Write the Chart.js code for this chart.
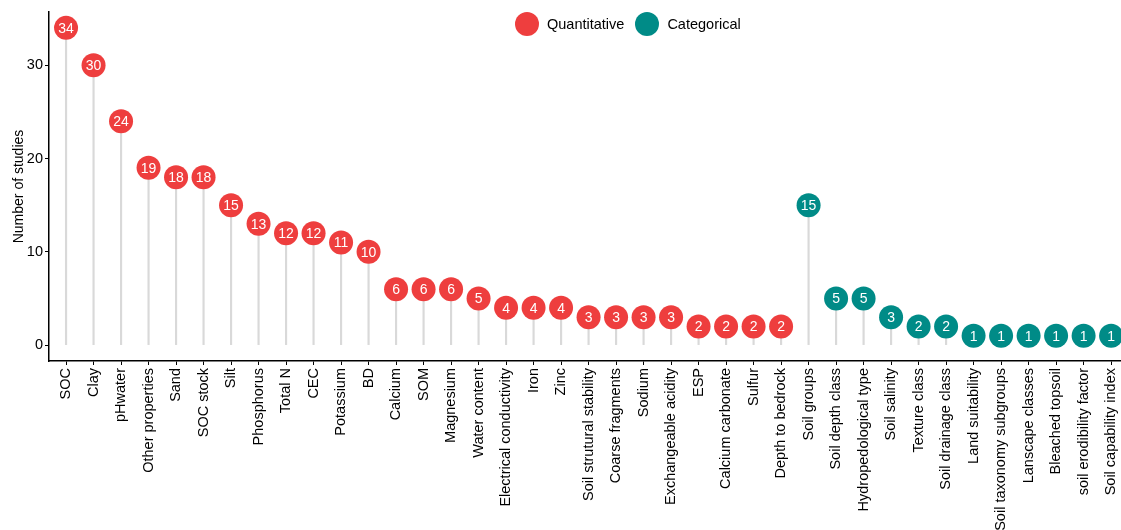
<!DOCTYPE html>
<html>
<head>
<meta charset="utf-8">
<script src="https://cdn.jsdelivr.net/npm/chart.js@4"></script>
<style>
  html, body { margin: 0; padding: 0; background: #fff; overflow: hidden; }
  #wrap { position: relative; width: 1121px; height: 530px; }
  #leyenda { position: absolute; left: 515px; top: 12px; display: flex; align-items: center;
    font-family: "Liberation Sans", Arial, sans-serif; font-size: 14.5px; color: #000; }
  #leyenda span.dot { width: 24px; height: 24px; border-radius: 50%; display: inline-block; margin-right: 8px; }
  #leyenda span.txt { margin-right: 11px; }
</style>
</head>
<body>
<div id="wrap">
  <canvas id="grafico" width="1121" height="530"></canvas>
  <div id="leyenda">
    <span class="dot" style="background:#EE3E3E"></span><span class="txt">Quantitative</span>
    <span class="dot" style="background:#008B87"></span><span class="txt">Categorical</span>
  </div>
</div>
<script>
var quantNames = ['SOC', 'Clay', 'pHwater', 'Other properties', 'Sand', 'SOC stock', 'Silt', 'Phosphorus',
    'Total N', 'CEC', 'Potassium', 'BD', 'Calcium', 'SOM', 'Magnesium', 'Water content',
    'Electrical conductivity', 'Iron', 'Zinc', 'Soil strutural stability', 'Coarse fragments', 'Sodium',
    'Exchangeable acidity', 'ESP', 'Calcium carbonate', 'Sulfur', 'Depth to bedrock'];
var quantValues = [34, 30, 24, 19, 18, 18, 15, 13, 12, 12, 11, 10, 6, 6, 6, 5, 4, 4, 4, 3, 3, 3, 3, 2, 2, 2, 2];
var catNames = ['Soil groups', 'Soil depth class', 'Hydropedological type', 'Soil salinity', 'Texture class',
    'Soil drainage class', 'Land suitability', 'Soil taxonomy subgroups', 'Lanscape classes',
    'Bleached topsoil', 'soil erodibility factor', 'Soil capability index'];
var catValues = [15, 5, 5, 3, 2, 2, 1, 1, 1, 1, 1, 1];
var yTicks = [0, 10, 20, 30];

var etiquetas = quantNames.concat(catNames);
var valores = quantValues.concat(catValues);
var fuente = '"Liberation Sans", Arial, sans-serif';

var puntosQuant = quantValues.map(function (v, i) { return {x: i, y: v}; });
var puntosCat = catValues.map(function (v, i) { return {x: quantNames.length + i, y: v}; });
var tallos = valores.map(function (v, i) { return {x: i, y: v}; });

// numeros blancos dentro de cada circulo
var textoPuntos = {
    id: 'textoPuntos',
    afterDatasetsDraw: function (chart) {
        var ctx = chart.ctx;
        ctx.save();
        ctx.fillStyle = '#fff';
        ctx.font = '14px ' + fuente;
        ctx.textAlign = 'center';
        ctx.textBaseline = 'middle';
        [0, 1].forEach(function (d) {
            var meta = chart.getDatasetMeta(d);
            meta.data.forEach(function (el, i) {
                ctx.fillText(chart.data.datasets[d].data[i].y, el.x, el.y + 1);
            });
        });
        ctx.restore();
    }
};

var ctx = document.getElementById('grafico').getContext('2d');
new Chart(ctx, {
    type: 'scatter',
    data: {
        datasets: [{
            label: 'Quantitative',
            data: puntosQuant,
            backgroundColor: '#EE3E3E',
            pointRadius: 12,
            pointHoverRadius: 12,
            borderWidth: 0,
            clip: false,
            order: 1
        }, {
            label: 'Categorical',
            data: puntosCat,
            backgroundColor: '#008B87',
            pointRadius: 12,
            pointHoverRadius: 12,
            borderWidth: 0,
            clip: false,
            order: 1
        }, {
            type: 'bar',
            label: 'tallos',
            data: tallos,
            backgroundColor: '#d9d9d9',
            barThickness: 1.5,
            order: 2
        }]
    },
    options: {
        responsive: false,
        animation: false,
        events: [],
        layout: {autoPadding: false, padding: {top: 12, left: 0, right: 0, bottom: 0}},
        plugins: {legend: {display: false}, tooltip: {enabled: false}},
        scales: {
            x: {
                type: 'linear',
                min: -0.62,
                max: 38.36,
                offset: false,
                afterBuildTicks: function (axis) {
                    axis.ticks = etiquetas.map(function (_, i) { return {value: i}; });
                },
                afterFit: function (s) {
                    s.height = 169;
                    s.paddingLeft = 0;
                    s.paddingRight = 0;
                },
                ticks: {
                    autoSkip: false,
                    minRotation: 90,
                    maxRotation: 90,
                    padding: 3,
                    color: '#000',
                    font: {family: fuente, size: 14.5},
                    callback: function (v) { return etiquetas[v]; }
                },
                grid: {offset: false, drawOnChartArea: false, drawTicks: true, tickLength: 4, color: '#000'},
                border: {color: '#000', width: 1.5}
            },
            y: {
                min: -1.7,
                max: 35.7,
                afterBuildTicks: function (axis) {
                    axis.ticks = yTicks.map(function (v) { return {value: v}; });
                },
                afterFit: function (s) { s.width = 49; },
                ticks: {
                    padding: 2,
                    color: '#000',
                    font: {family: fuente, size: 14.5}
                },
                grid: {drawOnChartArea: false, drawTicks: true, tickLength: 4, color: '#000'},
                border: {color: '#000', width: 1.5},
                title: {
                    display: true,
                    text: 'Number of studies',
                    color: '#000',
                    font: {family: fuente, size: 14},
                    padding: {top: 11, bottom: 0}
                }
            }
        }
    },
    plugins: [textoPuntos]
});
</script>
</body>
</html>
